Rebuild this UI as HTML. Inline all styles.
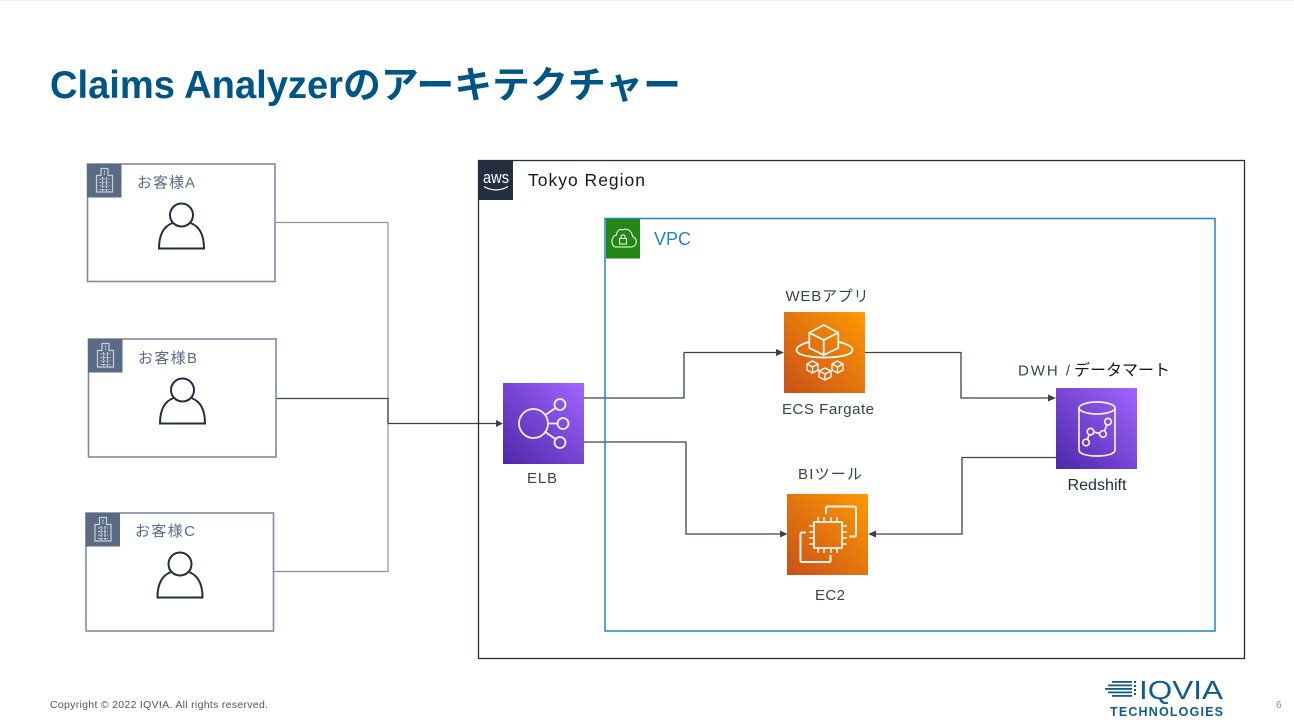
<!DOCTYPE html>
<html><head><meta charset="utf-8"><style>
html,body{margin:0;padding:0;background:#fff;width:1294px;height:727px;overflow:hidden}
svg{display:block}
text{font-family:"Liberation Sans","Noto Sans CJK JP",sans-serif}
</style></head><body>
<svg width="1294" height="727" viewBox="0 0 1294 727" xmlns="http://www.w3.org/2000/svg">
<defs>
<linearGradient id="pur" x1="0" y1="1" x2="1" y2="0"><stop offset="0" stop-color="#4d27a8"/><stop offset="1" stop-color="#a166ff"/></linearGradient>
<linearGradient id="org" x1="0" y1="1" x2="1" y2="0"><stop offset="0" stop-color="#c8511b"/><stop offset="1" stop-color="#ff9900"/></linearGradient>
<g id="bld" fill="none" stroke="#c9d0da" stroke-width="1.200">
<path d="M-8 24V7.500H-3.500V0.500H3.500V7.500H8V24Z"/>
<path d="M-5 11H5M-5 14.500H5M-5 18H5M-5 21.500H5M-2 9V23M2 9V23M0 2.500V7" stroke-width="1.100" stroke-dasharray="2 1"/>
</g>
<g id="person" fill="none" stroke="#232f3e" stroke-width="2">
<circle cx="0" cy="0" r="11.500"/>
<path d="M-9 8C-17 11-22.500 19-22.500 33.500H22.500C22.500 19 17 11 9 8"/>
</g>
</defs>
<rect x="0" y="0" width="1294" height="1" fill="#f0f0f0"/>
<text x="50" y="98" font-size="39" font-weight="700" fill="#005587" textLength="293" lengthAdjust="spacingAndGlyphs">Claims Analyzer</text>
<text x="343" y="98" font-size="37.500" font-weight="700" fill="#005587" textLength="338" lengthAdjust="spacingAndGlyphs">のアーキテクチャー</text>

<!-- customer lines -->
<g fill="none" stroke="#8a949c" stroke-width="1.200">
<path d="M275 222.500H388V571.500H273.500"/>
</g>
<g fill="none" stroke="#36444f" stroke-width="1.300">
<path d="M276 398.500H388V423.500H497"/>
<path d="M584 398H684V352.500H777"/>
<path d="M584 442H686V534H781"/>
<path d="M865 352.500H961V398H1050"/>
<path d="M1056 457.500H962V534H874"/>
</g>
<g fill="#36444f">
<path d="M503 423.500L496 420V427Z"/>
<path d="M784 352.500L776 349V356Z"/>
<path d="M787.500 534L780 530.500V537.500Z"/>
<path d="M1056 398L1048 394.500V401.500Z"/>
<path d="M868 534L876 530.500V537.500Z"/>
</g>

<!-- customers -->
<g>
<rect x="87.500" y="164" width="187.500" height="117.500" fill="#fff" stroke="#7f8ba3" stroke-width="1.600"/>
<rect x="87" y="164" width="34.500" height="33.500" fill="#5a6b86"/>
<use href="#bld" x="104.500" y="168"/>
<text x="137" y="187.500" font-size="15" fill="#5a6b86" textLength="58" lengthAdjust="spacing">お客様A</text>
<use href="#person" x="181.500" y="215"/>
</g>
<g>
<rect x="88.500" y="339" width="187.500" height="118" fill="#fff" stroke="#7f8ba3" stroke-width="1.600"/>
<rect x="88" y="339" width="34.500" height="33.500" fill="#5a6b86"/>
<use href="#bld" x="105.500" y="343"/>
<text x="138" y="363" font-size="15" fill="#5a6b86" textLength="59" lengthAdjust="spacing">お客様B</text>
<use href="#person" x="182.500" y="390"/>
</g>
<g>
<rect x="86" y="513" width="187.500" height="118" fill="#fff" stroke="#7f8ba3" stroke-width="1.600"/>
<rect x="85.500" y="513" width="34.500" height="33.500" fill="#5a6b86"/>
<use href="#bld" x="103" y="517"/>
<text x="135" y="536" font-size="15" fill="#5a6b86" textLength="60" lengthAdjust="spacing">お客様C</text>
<use href="#person" x="180" y="564"/>
</g>

<!-- Tokyo -->
<rect x="478.500" y="160.500" width="766" height="498" fill="none" stroke="#232f3e" stroke-width="1.300"/>
<rect x="479" y="160" width="34" height="40" fill="#232f3e"/>
<text x="496" y="183" font-size="16.500" fill="#fff" text-anchor="middle" textLength="26" lengthAdjust="spacingAndGlyphs">aws</text>
<path d="M484 186.500C491 191 501 191 508 186.500" fill="none" stroke="#fff" stroke-width="1.300"/>
<text x="528" y="186" font-size="17.500" fill="#16191f" textLength="117" lengthAdjust="spacing">Tokyo Region</text>

<!-- VPC -->
<rect x="605" y="218.500" width="610" height="412.500" fill="none" stroke="#1f86c8" stroke-width="1.500"/>
<rect x="606" y="219" width="34" height="39.500" fill="#248814"/>
<path d="M616 247H631C637.500 247 638 238 632.500 236.500C632 231 627 227.500 622.500 230C620 228.500 616.500 231 616.500 235C610.500 236 610.500 246.500 616 247Z" fill="none" stroke="#fff" stroke-width="1"/>
<rect x="619.500" y="238.500" width="7" height="5.500" fill="none" stroke="#fff" stroke-width="1"/>
<path d="M621 238.500V236.500C621 234.300 625 234.300 625 236.500V238.500" fill="none" stroke="#fff" stroke-width="1"/>
<text x="654" y="245" font-size="18" fill="#1f86c8" textLength="37" lengthAdjust="spacing">VPC</text>

<!-- ELB -->
<rect x="503" y="383" width="81" height="81" fill="url(#pur)"/>
<g fill="none" stroke="#fff" stroke-width="1.800" opacity=".92">
<circle cx="533.500" cy="423.500" r="14.500"/>
<circle cx="560" cy="404.500" r="5.500"/>
<circle cx="563" cy="423.500" r="5.500"/>
<circle cx="560" cy="442.500" r="5.500"/>
<path d="M546 414.500L555.500 408M548 423.500H557.500M546 432.500L555.500 439"/>
</g>
<text x="542" y="483" font-size="15" fill="#36444f" text-anchor="middle" textLength="30" lengthAdjust="spacing">ELB</text>

<!-- ECS -->
<text x="827" y="301" font-size="15" fill="#36444f" text-anchor="middle" textLength="83" lengthAdjust="spacing">WEBアプリ</text>
<rect x="784" y="312" width="81" height="81" fill="url(#org)"/>
<g fill="none" stroke="#fff" stroke-width="1.700" stroke-linejoin="round">
<path d="M809.300 332.700L823.700 325L838.300 332.700V348L823.700 355L809.300 348ZM809.300 332.700L823.700 340L838.300 332.700M823.700 340V355"/>
<path d="M809 342C800 344.500 796.500 347 796.500 350C796.500 354.500 808 357.500 824.500 357.500C841 357.500 852.500 354.500 852.500 350C852.500 347 849 344.500 839 342"/>
<path d="M807 364L812.500 361L818 364V370L812.500 373L807 370ZM807 364L812.500 367L818 364M812.500 367V373" stroke-width="1.300"/>
<path d="M819 371L825 368L831 371V377L825 380L819 377ZM819 371L825 374L831 371M825 374V380" stroke-width="1.300"/>
<path d="M832 364L837.500 361L843 364V370L837.500 373L832 370ZM832 364L837.500 367L843 364M837.500 367V373" stroke-width="1.300"/>
</g>
<text x="828" y="414" font-size="15" fill="#36444f" text-anchor="middle" textLength="92" lengthAdjust="spacing">ECS Fargate</text>

<!-- EC2 -->
<text x="830" y="479" font-size="15" fill="#36444f" text-anchor="middle" textLength="64" lengthAdjust="spacing">BIツール</text>
<rect x="787" y="494" width="81" height="81" fill="url(#org)"/>
<g fill="none" stroke="#fff" stroke-width="1.500" opacity=".92">
<rect x="814" y="522" width="28" height="26" stroke-width="1.800"/>
<path d="M818 517V522M824 517V522M831 517V522M837 517V522M818 548V553M824 548V553M831 548V553M837 548V553M809 526H814M809 532H814M809 538H814M809 544H814M842 526H847M842 532H847M842 538H847M842 544H847"/>
<path d="M826 514V508C826 507 827 506.500 828 506.500H854C855.500 506.500 856 507 856 508.500V535C856 536 855.500 536.500 854 536.500H849" stroke-width="2"/>
<path d="M806 532.500H802C801 532.500 800.500 533 800.500 534V560.500C800.500 561.500 801 562 802 562H829C830 562 830.500 561.500 830.500 560.500V555" stroke-width="2"/>
</g>
<text x="830" y="600" font-size="15" fill="#36444f" text-anchor="middle" textLength="30" lengthAdjust="spacing">EC2</text>

<!-- Redshift -->
<text x="1018" y="375.500" font-size="15" fill="#36444f" textLength="52" lengthAdjust="spacing">DWH /</text>
<text x="1074" y="375.500" font-size="16" fill="#16191f" textLength="96" lengthAdjust="spacing">データマート</text>
<rect x="1056" y="388" width="81" height="81" fill="url(#pur)"/>
<g fill="none" stroke="#fff" stroke-width="1.700" opacity=".92">
<ellipse cx="1097" cy="408" rx="18" ry="6"/>
<path d="M1079 408V450C1079 454 1087 456 1097 456C1107 456 1115 454 1115 450V408"/>
<circle cx="1086" cy="442.500" r="3.300"/>
<circle cx="1090.500" cy="431.700" r="3.300"/>
<circle cx="1103" cy="434" r="3.300"/>
<circle cx="1108" cy="421.700" r="3.300"/>
<path d="M1087.500 439.500L1089 434.700M1094 432L1099.500 433.500M1104.500 431L1106.800 424.700"/>
</g>
<text x="1097" y="490" font-size="15.500" fill="#232f3e" text-anchor="middle" textLength="59" lengthAdjust="spacingAndGlyphs">Redshift</text>

<!-- footer -->
<text x="50" y="708" font-size="10.500" fill="#555" textLength="218" lengthAdjust="spacing">Copyright © 2022 IQVIA. All rights reserved.</text>
<g fill="#0f5c8c">
<rect x="1112" y="681" width="20" height="1.800"/>
<rect x="1108" y="684.500" width="24" height="1.800"/>
<rect x="1105" y="688" width="27" height="1.800"/>
<rect x="1108" y="691.500" width="24" height="1.800"/>
<rect x="1112" y="695" width="20" height="1.800"/>
<rect x="1134" y="681" width="2" height="2"/><rect x="1134" y="685" width="2" height="2"/><rect x="1134" y="689" width="2" height="2"/><rect x="1134" y="693" width="2" height="2"/>
</g>
<text x="1139" y="699" font-size="25.500" fill="#0f5c8c" textLength="84" lengthAdjust="spacingAndGlyphs">IQVIA</text>
<text x="1110" y="716" font-size="12.500" font-weight="700" fill="#0f5c8c" textLength="113" lengthAdjust="spacing">TECHNOLOGIES</text>
<text x="1276" y="708" font-size="10" fill="#888">6</text>
</svg>
</body></html>
